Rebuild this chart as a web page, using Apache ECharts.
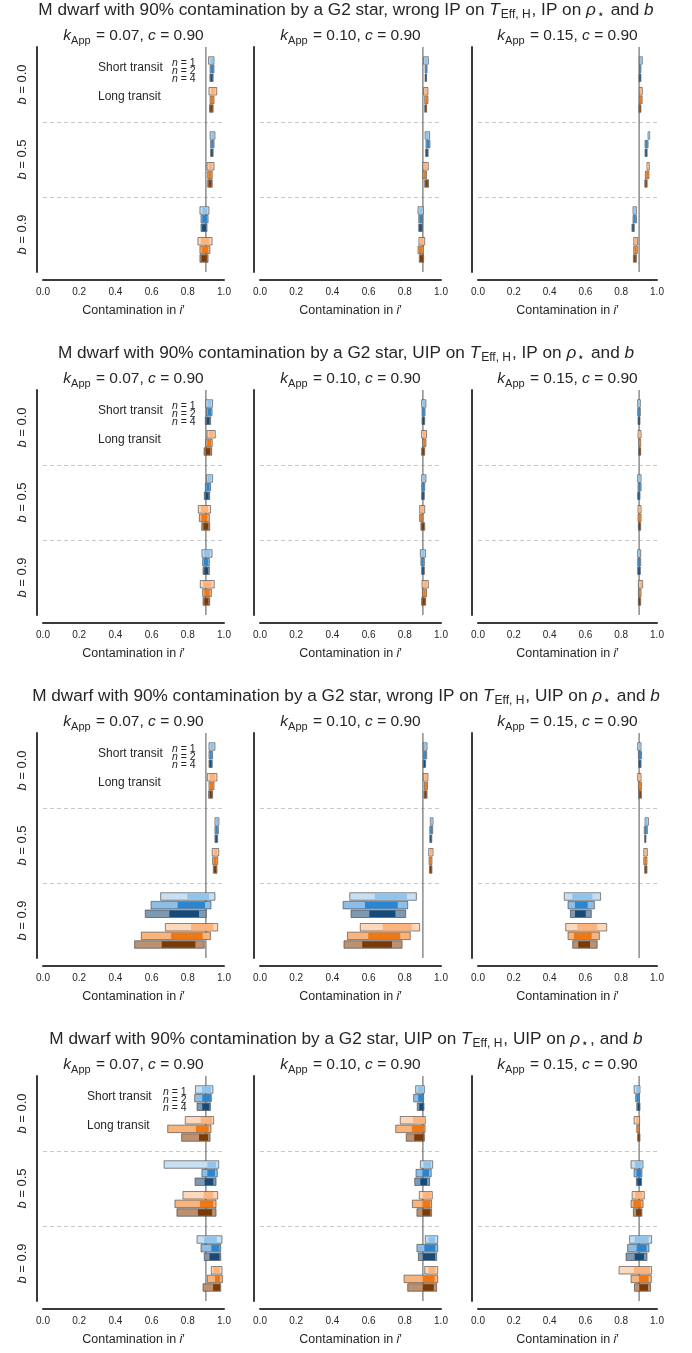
<!DOCTYPE html>
<html><head><meta charset="utf-8">
<script src="https://cdn.jsdelivr.net/npm/echarts@6/dist/echarts.min.js"></script>
<style>html,body{margin:0;padding:0;background:#fff}#c{width:692px;height:1353px}</style>
</head><body><div id="c"></div>
<script>
// ---------------- data ----------------
const blockTitleParts = [
  ['wrong IP', 'IP', ' and '],
  ['UIP', 'IP', ' and '],
  ['wrong IP', 'UIP', ' and '],
  ['UIP', 'UIP', ', and ']
];
const kApp = ['0.07', '0.10', '0.15'];
const cVal = '0.90';
const bLabels = ['0.0', '0.5', '0.9'];
const nLabels = ['1', '2', '4'];
const transitLabels = ['Short transit', 'Long transit'];
const xTickStep = 0.2;
const refValue = 0.9;

// each row: [outer low, inner low, inner high, outer high]
// order: b=0.0 (short n=1,2,4, long n=1,2,4), b=0.5 (...), b=0.9 (...)
const wrongIP_IP_k07 = [
  [0.915,0.925,0.940,0.945],[0.923,0.928,0.940,0.945],[0.922,0.926,0.936,0.940],
  [0.917,0.928,0.952,0.960],[0.923,0.927,0.940,0.945],[0.920,0.924,0.936,0.940],
  [0.923,0.930,0.945,0.950],[0.926,0.930,0.941,0.945],[0.926,0.929,0.937,0.940],
  [0.906,0.915,0.937,0.945],[0.910,0.914,0.930,0.935],[0.910,0.915,0.930,0.935],
  [0.867,0.880,0.908,0.917],[0.873,0.880,0.905,0.912],[0.873,0.879,0.900,0.906],
  [0.856,0.872,0.920,0.934],[0.867,0.877,0.913,0.922],[0.867,0.875,0.905,0.912]
];
const wrongIP_IP_k10 = [
  [0.904,0.910,0.925,0.930],[0.912,0.914,0.921,0.923],[0.912,0.914,0.919,0.920],
  [0.904,0.910,0.923,0.928],[0.910,0.914,0.925,0.928],[0.910,0.912,0.918,0.920],
  [0.912,0.918,0.932,0.937],[0.917,0.921,0.934,0.939],[0.915,0.918,0.926,0.929],
  [0.900,0.906,0.925,0.930],[0.900,0.904,0.916,0.920],[0.910,0.914,0.927,0.931],
  [0.873,0.880,0.897,0.902],[0.877,0.881,0.895,0.899],[0.877,0.880,0.893,0.897],
  [0.878,0.885,0.904,0.910],[0.873,0.879,0.897,0.902],[0.880,0.884,0.900,0.904]
];
const wrongIP_IP_k15 = [
  [0.901,0.905,0.914,0.918],[0.902,0.904,0.908,0.910],[0.900,0.902,0.908,0.910],
  [0.901,0.905,0.914,0.918],[0.901,0.905,0.913,0.917],[0.899,0.902,0.908,0.910],
  [0.950,0.952,0.957,0.959],[0.933,0.937,0.946,0.950],[0.933,0.936,0.942,0.945],
  [0.944,0.947,0.954,0.957],[0.935,0.940,0.951,0.955],[0.932,0.935,0.942,0.945],
  [0.866,0.870,0.880,0.885],[0.866,0.870,0.881,0.885],[0.860,0.863,0.870,0.873],
  [0.870,0.875,0.887,0.892],[0.870,0.874,0.886,0.890],[0.868,0.872,0.881,0.885]
];
const UIP_IP_k07 = [
  [0.899,0.908,0.930,0.937],[0.904,0.910,0.928,0.934],[0.897,0.903,0.920,0.926],
  [0.906,0.916,0.943,0.952],[0.900,0.907,0.928,0.935],[0.890,0.898,0.924,0.932],
  [0.904,0.911,0.930,0.937],[0.897,0.903,0.920,0.926],[0.891,0.897,0.915,0.921],
  [0.858,0.872,0.912,0.926],[0.864,0.875,0.908,0.919],[0.877,0.886,0.913,0.921],
  [0.878,0.889,0.923,0.934],[0.882,0.889,0.912,0.919],[0.884,0.891,0.912,0.919],
  [0.869,0.884,0.931,0.946],[0.882,0.891,0.921,0.930],[0.884,0.891,0.914,0.921]
];
const UIP_IP_k10 = [
  [0.893,0.898,0.912,0.917],[0.895,0.898,0.909,0.912],[0.895,0.898,0.907,0.910],
  [0.893,0.898,0.915,0.920],[0.900,0.903,0.913,0.917],[0.893,0.896,0.907,0.910],
  [0.893,0.898,0.912,0.917],[0.893,0.896,0.907,0.910],[0.893,0.896,0.905,0.908],
  [0.882,0.887,0.905,0.910],[0.882,0.885,0.896,0.900],[0.889,0.893,0.906,0.910],
  [0.886,0.892,0.909,0.915],[0.889,0.892,0.904,0.908],[0.893,0.896,0.905,0.908],
  [0.895,0.902,0.923,0.930],[0.897,0.902,0.915,0.920],[0.893,0.897,0.911,0.915]
];
const UIP_IP_k15 = [
  [0.892,0.895,0.904,0.907],[0.892,0.895,0.904,0.907],[0.894,0.896,0.903,0.905],
  [0.894,0.897,0.907,0.911],[0.898,0.900,0.907,0.909],[0.898,0.900,0.907,0.909],
  [0.892,0.895,0.907,0.911],[0.894,0.897,0.907,0.911],[0.892,0.895,0.902,0.905],
  [0.894,0.897,0.907,0.911],[0.894,0.897,0.907,0.911],[0.896,0.899,0.906,0.909],
  [0.892,0.895,0.905,0.909],[0.892,0.895,0.905,0.909],[0.892,0.895,0.904,0.907],
  [0.896,0.901,0.915,0.920],[0.896,0.899,0.907,0.911],[0.896,0.899,0.906,0.909]
];
const wrongIP_UIP_k07 = [
  [0.917,0.925,0.943,0.950],[0.917,0.922,0.932,0.937],[0.917,0.921,0.931,0.935],
  [0.908,0.920,0.952,0.961],[0.917,0.923,0.940,0.945],[0.915,0.920,0.933,0.937],
  [0.950,0.955,0.967,0.972],[0.950,0.954,0.965,0.969],[0.950,0.953,0.961,0.965],
  [0.935,0.943,0.964,0.971],[0.937,0.943,0.959,0.965],[0.941,0.945,0.957,0.961],
  [0.650,0.797,0.917,0.950],[0.597,0.744,0.895,0.928],[0.565,0.698,0.862,0.902],
  [0.676,0.818,0.941,0.965],[0.543,0.707,0.882,0.925],[0.506,0.656,0.842,0.891]
];
const wrongIP_UIP_k10 = [
  [0.902,0.906,0.918,0.923],[0.904,0.907,0.917,0.921],[0.902,0.905,0.912,0.915],
  [0.902,0.908,0.922,0.928],[0.908,0.912,0.922,0.926],[0.906,0.909,0.919,0.923],
  [0.941,0.944,0.952,0.956],[0.938,0.941,0.950,0.954],[0.938,0.940,0.946,0.949],
  [0.932,0.937,0.951,0.956],[0.934,0.937,0.946,0.950],[0.936,0.939,0.947,0.950],
  [0.496,0.634,0.812,0.864],[0.459,0.580,0.761,0.816],[0.503,0.604,0.748,0.805],
  [0.554,0.678,0.838,0.882],[0.483,0.598,0.775,0.830],[0.464,0.565,0.729,0.785]
];
const wrongIP_UIP_k15 = [
  [0.892,0.896,0.907,0.911],[0.896,0.899,0.910,0.913],[0.898,0.900,0.908,0.911],
  [0.892,0.896,0.907,0.911],[0.896,0.899,0.910,0.913],[0.898,0.901,0.910,0.913],
  [0.933,0.937,0.948,0.952],[0.929,0.933,0.942,0.946],[0.931,0.933,0.936,0.938],
  [0.926,0.930,0.942,0.946],[0.926,0.930,0.940,0.944],[0.931,0.934,0.941,0.944],
  [0.482,0.527,0.639,0.685],[0.503,0.542,0.613,0.650],[0.516,0.542,0.602,0.633],
  [0.490,0.555,0.666,0.719],[0.503,0.536,0.635,0.678],[0.529,0.560,0.626,0.666]
];
const UIP_UIP_k07 = [
  [0.842,0.878,0.928,0.939],[0.838,0.880,0.927,0.930],[0.851,0.880,0.919,0.925],
  [0.786,0.871,0.934,0.943],[0.689,0.845,0.915,0.928],[0.766,0.862,0.912,0.923],
  [0.669,0.908,0.956,0.971],[0.878,0.908,0.950,0.963],[0.840,0.893,0.941,0.956],
  [0.773,0.888,0.941,0.965],[0.729,0.867,0.941,0.956],[0.740,0.856,0.934,0.956],
  [0.851,0.890,0.960,0.989],[0.873,0.930,0.975,0.982],[0.891,0.920,0.975,0.982],
  [0.930,0.940,0.978,0.989],[0.908,0.950,0.978,0.991],[0.884,0.940,0.978,0.982]
];
const UIP_UIP_k10 = [
  [0.860,0.871,0.903,0.908],[0.849,0.874,0.900,0.904],[0.869,0.880,0.903,0.906],
  [0.775,0.845,0.910,0.913],[0.750,0.839,0.906,0.912],[0.808,0.852,0.904,0.908],
  [0.886,0.903,0.945,0.954],[0.862,0.897,0.934,0.946],[0.855,0.886,0.923,0.937],
  [0.880,0.899,0.943,0.952],[0.842,0.897,0.941,0.948],[0.867,0.897,0.941,0.948],
  [0.913,0.930,0.967,0.982],[0.867,0.908,0.969,0.982],[0.875,0.899,0.967,0.976],
  [0.910,0.930,0.970,0.982],[0.796,0.899,0.965,0.982],[0.816,0.899,0.960,0.976]
];
const UIP_UIP_k15 = [
  [0.872,0.883,0.901,0.905],[0.881,0.885,0.898,0.901],[0.887,0.892,0.903,0.905],
  [0.872,0.883,0.898,0.903],[0.887,0.888,0.898,0.901],[0.892,0.894,0.903,0.905],
  [0.855,0.877,0.914,0.922],[0.872,0.885,0.911,0.916],[0.885,0.890,0.911,0.914],
  [0.861,0.877,0.918,0.929],[0.855,0.868,0.911,0.922],[0.868,0.883,0.911,0.916],
  [0.847,0.875,0.953,0.970],[0.836,0.886,0.942,0.955],[0.827,0.875,0.927,0.944],
  [0.788,0.872,0.961,0.970],[0.855,0.899,0.953,0.968],[0.874,0.901,0.950,0.964]
];
const panels = [
  [wrongIP_IP_k07, wrongIP_IP_k10, wrongIP_IP_k15],
  [UIP_IP_k07, UIP_IP_k10, UIP_IP_k15],
  [wrongIP_UIP_k07, wrongIP_UIP_k10, wrongIP_UIP_k15],
  [UIP_UIP_k07, UIP_UIP_k10, UIP_UIP_k15]
];
// legend annotation x-positions (data units) per block: [text x, n-label x]
const annotX = [[0.304, 0.713], [0.304, 0.713], [0.304, 0.713], [0.243, 0.663]];

// ---------------- layout / style ----------------
const FONT = '"Liberation Sans", Arial, sans-serif';
const TXT = '#262626';
const COL_LEFT = [43, 260, 478];
const COL_W = [181, 181, 179];
const BLOCK_TOP = [47, 390, 733, 1076];
const GRID_H = 225;
const ROW_OFF = [-0.32, -0.205, -0.09, 0.09, 0.205, 0.32];
const BAR_H = 0.1;
const OUTER = ['#c6dff3', '#8ebde6', '#7e99b2', '#fdd8ba', '#f9b47c', '#bd9170'];
const INNER = ['#91c4ea', '#2c85cf', '#164b79', '#fdb37b', '#ee7813', '#7b3b09'];

const chart = echarts.init(document.getElementById('c'), null, {renderer: 'canvas'});

const titles = [], grids = [], xAxes = [], yAxes = [], series = [];

function st(size, italic) {
  return {fontSize: size, fontFamily: FONT, color: TXT, fontWeight: 'normal', fontStyle: italic ? 'italic' : 'normal'};
}
function mainTitleText(p) {
  return '{n|M dwarf with 90% contamination by a G2 star, ' + p[0] + ' on }{it|T}{sub|Eff, H}{n|, ' + p[1] +
    ' on }{it|ρ}{sub|⋆}{n|' + p[2] + '}{it|b}';
}
const mainRich = {
  n: Object.assign(st(17.2, false), {lineHeight: 22}),
  it: Object.assign(st(17.2, true), {lineHeight: 22}),
  sub: Object.assign(st(12, false), {lineHeight: 12, padding: [10, 1, 0, 1]})
};
const subRich = {
  n: Object.assign(st(15.5, false), {lineHeight: 20}),
  it: Object.assign(st(15.5, true), {lineHeight: 20}),
  sub: Object.assign(st(11, false), {lineHeight: 11, padding: [9, 1, 0, 0]})
};

function barRender(params, api) {
  const b = api.value(4), r = api.value(5);
  const pLo = api.coord([api.value(0), b]);
  const pILo = api.coord([api.value(1), b]);
  const pIHi = api.coord([api.value(2), b]);
  const pHi = api.coord([api.value(3), b]);
  const band = api.size([0, 1])[1];
  const h = BAR_H * band;
  const y = pLo[1] + ROW_OFF[r] * band - h / 2;
  return {
    type: 'group',
    children: [
      {type: 'rect', shape: {x: pLo[0], y: y, width: Math.max(pHi[0] - pLo[0], 1), height: h},
        style: {fill: OUTER[r], stroke: 'rgba(60,60,60,0.6)', lineWidth: 1}},
      {type: 'rect', shape: {x: pILo[0], y: y + 0.5, width: Math.max(pIHi[0] - pILo[0], 0.5), height: h - 1},
        style: {fill: INNER[r]}}
    ]
  };
}

function refRender(params, api) {
  const p = api.coord([api.value(0), 0]);
  const cs = params.coordSys;
  return {
    type: 'line',
    shape: {x1: p[0], y1: cs.y, x2: p[0], y2: cs.y + cs.height},
    style: {stroke: '#707070', lineWidth: 1.2}
  };
}

function makeAnnotRender(texts) {
  return function (params, api) {
    const p = api.coord([api.value(0), api.value(1)]);
    const band = api.size([0, 1])[1];
    const t = texts[params.dataIndex];
    return {
      type: 'text',
      x: p[0], y: p[1] + api.value(2) * band,
      style: {
        text: t.text, rich: t.rich, fill: TXT, fontSize: t.size, fontFamily: FONT,
        align: 'left', verticalAlign: 'middle'
      }
    };
  };
}

const nRich = {i: st(10.5, true), r: st(10.5, false)};

for (let blk = 0; blk < 4; blk++) {
  titles.push({
    text: mainTitleText(blockTitleParts[blk]),
    left: 346, top: BLOCK_TOP[blk] - 48, textAlign: 'center', padding: 0,
    textStyle: {rich: mainRich, fontWeight: 'normal'}
  });
  for (let col = 0; col < 3; col++) {
    const gi = blk * 3 + col;
    const cx = COL_LEFT[col] + COL_W[col] / 2;
    titles.push({
      text: '{it|k}{sub|App}{n| = ' + kApp[col] + ', }{it|c}{n| = ' + cVal + '}',
      left: cx, top: BLOCK_TOP[blk] - 21, textAlign: 'center', padding: 0,
      textStyle: {rich: subRich, fontWeight: 'normal'}
    });
    grids.push({
      left: COL_LEFT[col], top: BLOCK_TOP[blk], width: COL_W[col], height: GRID_H,
      containLabel: false, outerBoundsMode: 'none'
    });
    xAxes.push({
      type: 'value', gridIndex: gi, min: 0, max: 1, interval: xTickStep, offset: 8,
      axisLine: {show: true, onZero: false, lineStyle: {color: '#3a3a3a', width: 2}},
      axisTick: {show: false},
      splitLine: {show: false},
      axisLabel: {fontSize: 10, fontFamily: FONT, color: TXT, margin: 7,
        formatter: v => v.toFixed(1)},
      name: '{n|Contamination in }{i|i}{n|′}',
      nameLocation: 'middle', nameGap: 24,
      nameTextStyle: {rich: {n: st(12.5, false), i: st(12.5, true)}}
    });
    yAxes.push({
      type: 'category', gridIndex: gi, inverse: true, boundaryGap: true, offset: 6,
      data: bLabels,
      axisLine: {show: true, onZero: false, lineStyle: {color: '#3a3a3a', width: 2}},
      axisTick: {show: false},
      splitLine: {show: true, interval: 0, showMinLine: false, showMaxLine: false,
        lineStyle: {color: '#c8c8c8', type: [4, 3], width: 1}},
      axisLabel: {
        show: col === 0, interval: 0, rotate: 90, margin: 8,
        formatter: v => '{i|b}{n| = ' + v + '}',
        rich: {i: st(13, true), n: st(13, false)}
      }
    });
    series.push({
      type: 'custom', xAxisIndex: gi, yAxisIndex: gi, z: 2, silent: true,
      renderItem: refRender,
      encode: {x: 0, y: 1},
      data: [[refValue, 0]]
    });
    const rows = panels[blk][col].map((d, i) => [d[0], d[1], d[2], d[3], Math.floor(i / 6), i % 6]);
    series.push({
      type: 'custom', xAxisIndex: gi, yAxisIndex: gi, z: 3,
      renderItem: barRender,
      encode: {x: [0, 1, 2, 3], y: 4},
      data: rows,
      silent: true
    });
    if (col === 0) {
      const ax = annotX[blk];
      const texts = [
        {text: transitLabels[0], size: 12},
        {text: transitLabels[1], size: 12},
        {text: '{i|n}{r| = ' + nLabels[0] + '}', rich: nRich, size: 10.5},
        {text: '{i|n}{r| = ' + nLabels[1] + '}', rich: nRich, size: 10.5},
        {text: '{i|n}{r| = ' + nLabels[2] + '}', rich: nRich, size: 10.5}
      ];
      series.push({
        type: 'custom', xAxisIndex: gi, yAxisIndex: gi, z: 4, silent: true,
        renderItem: makeAnnotRender(texts),
        encode: {x: 0, y: 1},
        data: [
          [ax[0], 0, -0.23], [ax[0], 0, 0.16],
          [ax[1], 0, -0.29], [ax[1], 0, -0.18], [ax[1], 0, -0.07]
        ]
      });
    }
  }
}

chart.setOption({
  backgroundColor: '#ffffff',
  animation: false,
  title: titles,
  grid: grids,
  xAxis: xAxes,
  yAxis: yAxes,
  series: series
});
</script>
</body></html>
